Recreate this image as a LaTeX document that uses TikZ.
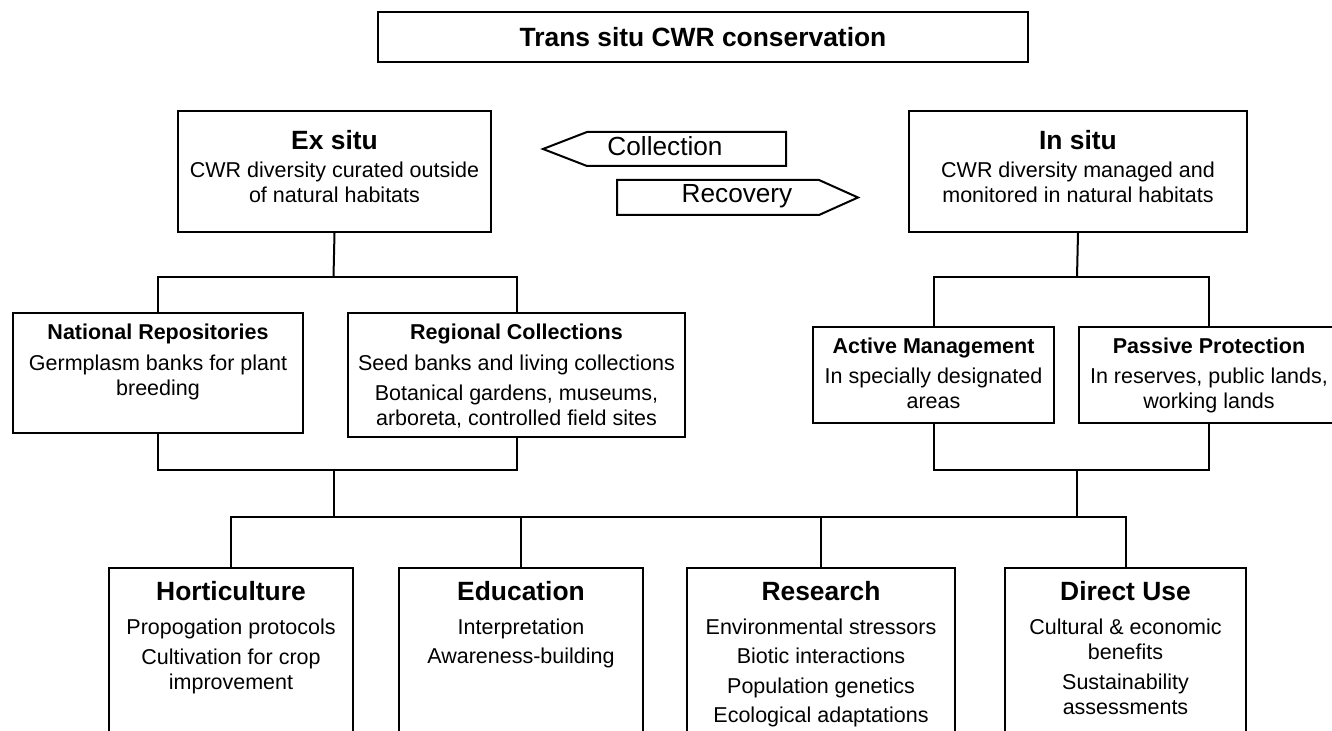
\documentclass[tikz,border=0pt]{standalone}
\usepackage{fontspec}
\setmainfont{Liberation Sans}
\usepackage{tikz}

\newcommand{\bodyfont}{\fontsize{10.75}{12.5}\selectfont}
\newcommand{\headfont}{\fontsize{13.2}{15.5}\selectfont\bfseries}
\newcommand{\boxpar}[4]{\parbox[t][#2][t]{#1}{\centering\rule{0pt}{#3}#4}}

\tikzset{
  box/.style={draw, line width=1pt, inner sep=0pt, anchor=north west, font=\bodyfont},
  link/.style={line width=1pt},
  tag/.style={draw, line width=1pt}
}

\begin{document}
\begin{tikzpicture}[x=0.5pt, y=-0.5pt]
\useasboundingbox (0,0) rectangle (1332,731);
\clip (0,0) rectangle (1332,731);

% Title
\node[draw, line width=1pt, inner sep=0pt, minimum width=325pt, minimum height=25pt,
  font=\headfont] (title) at (703,37) {Trans situ CWR conservation};

% Ex situ and in situ
\node[box] (exsitu) at (177,110) {\boxpar{156.5pt}{60.5pt}{19.5pt}{{\headfont Ex situ}\\[1.5pt]
  CWR diversity curated outside\\ of natural habitats}};
\node[box] (insitu) at (908,110) {\boxpar{169pt}{60.5pt}{19.5pt}{{\headfont In situ}\\[1.5pt]
  CWR diversity managed and\\ monitored in natural habitats}};

% Collection / recovery
\draw[tag] (543,149) -- (587,132) -- (786,132) -- (786,166) -- (587,166) -- cycle;
\node[anchor=base, font=\fontsize{13.1}{15}\selectfont] (collection) at (665,156) {Collection};
\draw[tag] (617,180) -- (819,180) -- (858,197.5) -- (819,215) -- (617,215) -- cycle;
\node[anchor=base, font=\fontsize{13.1}{15}\selectfont] (recovery) at (737,203) {Recovery};

% Ex situ branches
\node[box] (natrep) at (12,312) {\boxpar{145pt}{60pt}{13.5pt}{{\bfseries National Repositories}\\[2.75pt]
  Germplasm banks for plant\\ breeding}};
\node[box] (regcol) at (347,312) {\boxpar{168.5pt}{62pt}{13.5pt}{{\bfseries Regional Collections}\\[2.75pt]
  Seed banks and living collections\\[2.5pt]
  Botanical gardens, museums,\\ arboreta, controlled field sites}};

% In situ branches
\node[box] (activeman) at (812,326) {\boxpar{120.5pt}{48pt}{13.5pt}{{\bfseries Active Management}\\[2.5pt]
  In specially designated\\ areas}};
\node[box] (passprot) at (1078,326) {\boxpar{130pt}{48pt}{13.5pt}{{\bfseries Passive Protection}\\[2.5pt]
  In reserves, public lands,\\ working lands}};

% Uses
\node[box] (hort) at (108,567) {\boxpar{122pt}{86.5pt}{16pt}{{\headfont Horticulture}\\[4.5pt]
  Propogation protocols\\[2.5pt]
  Cultivation for crop\\ improvement}};
\node[box] (edu) at (398,567) {\boxpar{122pt}{86.5pt}{16pt}{{\headfont Education}\\[4.5pt]
  Interpretation\\[2.25pt]
  Awareness-building}};
\node[box] (research) at (686,567) {\boxpar{134pt}{86.5pt}{16pt}{{\headfont Research}\\[4.5pt]
  Environmental stressors\\[2.25pt]
  Biotic interactions\\[2.25pt]
  Population genetics\\[2.25pt]
  Ecological adaptations}};
\node[box] (direct) at (1004,567) {\boxpar{120.5pt}{86.5pt}{16pt}{{\headfont Direct Use}\\[4.5pt]
  Cultural \& economic\\ benefits\\[2.5pt]
  Sustainability\\ assessments}};

% Junctions
\coordinate (exsplit) at (333.5,277);
\coordinate (exjoin) at (333.5,470);
\coordinate (exbus) at (333.5,517);
\coordinate (insplit) at (1077,277);
\coordinate (injoin) at (1077,470);
\coordinate (inbus) at (1077,517);

% Connectors
\draw[link] (exsitu.south) -- (exsplit);
\draw[link] (natrep.north) |- (exsplit) -| (regcol.north);
\draw[link] (natrep.south) |- (exjoin) -| (regcol.south);
\draw[link] (exjoin) -- (exbus);
\draw[link] (insitu.south) -- (insplit);
\draw[link] (activeman.north) |- (insplit) -| (passprot.north);
\draw[link] (activeman.south) |- (injoin) -| (passprot.south);
\draw[link] (injoin) -- (inbus);
\draw[link] (hort.north) |- (exbus) -- (inbus) -| (direct.north);
\draw[link] (edu.north) -- (edu.north |- exbus);
\draw[link] (research.north) -- (research.north |- exbus);
\end{tikzpicture}
\end{document}
